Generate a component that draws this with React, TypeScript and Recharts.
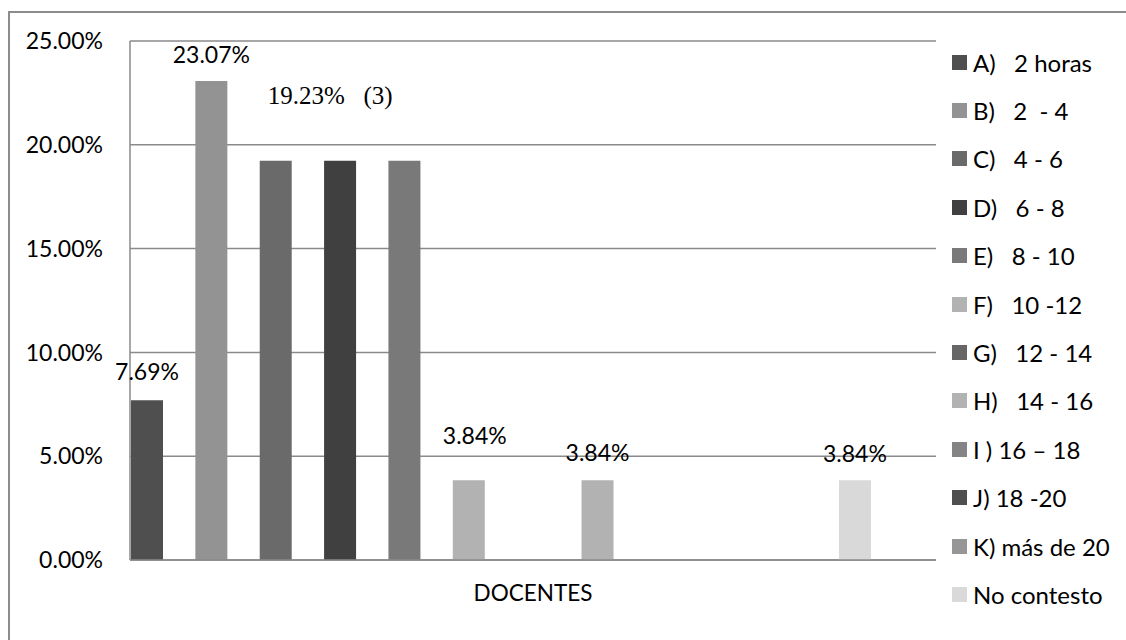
import React from 'react';
import { BarChart, Bar, XAxis, YAxis, CartesianGrid, Legend, LabelList } from 'recharts';

const categories = ['DOCENTES'];
const seriesKeys = ['A', 'B', 'C', 'D', 'E', 'F', 'G', 'H', 'I', 'J', 'K', 'L'];
const seriesNames = [
  'A)   2 horas',
  'B)   2  - 4',
  'C)   4 - 6',
  'D)   6 - 8',
  'E)   8 - 10',
  'F)   10 -12',
  'G)   12 - 14',
  'H)   14 - 16',
  'I ) 16 – 18',
  'J) 18 -20',
  'K) más de 20',
  'No contesto',
];
// porcentajes por rango de horas
const seriesValues = [7.69, 23.07, 19.23, 19.23, 19.23, 3.84, 0, 3.84, 0, 0, 0, 3.84];
const seriesColors = [
  '#4f4f4f', '#939393', '#6a6a6a', '#404040', '#797979', '#b2b2b2',
  '#666666', '#b2b2b2', '#848484', '#4f4f4f', '#969696', '#d9d9d9',
];
const yTicks = [0, 5, 10, 15, 20, 25];

const data = categories.map((cat) => {
  const row: Record<string, string | number> = { cat };
  seriesKeys.forEach((k, i) => {
    row[k] = seriesValues[i];
  });
  return row;
});

const SANS = 'Lato, "Open Sans", sans-serif';
const SERIF = '"Liberation Serif", "DejaVu Serif", serif';
const GRID = '#8a8a8a';

// etiquetas encima de cada barra: distancia hacia arriba y corrimiento lateral
const labelLift: Record<string, number> = { A: 20, B: 18, F: 36, H: 19, L: 18 };
const labelShift: Record<string, number> = { F: 6 };

const pct = (v: number) => `${Number(v).toFixed(2)}%`;

const pctLabel = (lift: number, shift: number) => (props: any) => {
  const { x, y, width, value } = props;
  return (
    <text
      x={Number(x) + Number(width) / 2 + shift}
      y={Number(y) - lift}
      textAnchor="middle"
      fontFamily={SANS}
      fontSize={23}
      fill="#000"
    >
      {pct(value)}
    </text>
  );
};

// C, D y E comparten el mismo valor: una sola etiqueta con (3)
const groupLabel = (props: any) => {
  const { x, y, value } = props;
  return (
    <text
      x={Number(x) + 8}
      y={Number(y) - 57}
      fontFamily={SERIF}
      fontSize={25}
      fill="#000"
      xmlSpace="preserve"
      style={{ whiteSpace: 'pre' }}
    >
      {`${pct(value)}   (3)`}
    </text>
  );
};

const LegendList = (props: any) => {
  const { payload = [] } = props;
  return (
    <div style={{ fontFamily: SANS, fontSize: 24, color: '#000' }}>
      {payload.map((p: any) => (
        <div key={p.value} style={{ height: 48.4, display: 'flex', alignItems: 'center' }}>
          <span style={{ width: 15, height: 15, background: p.color, marginRight: 6, flex: 'none' }} />
          <span style={{ whiteSpace: 'pre' }}>{p.value}</span>
        </div>
      ))}
    </div>
  );
};

export default function App() {
  return (
    <div style={{ position: 'absolute', left: 0, top: 0, width: 1126, height: 640, background: '#fff' }}>
      <div
        style={{
          position: 'absolute',
          left: 8,
          top: 11,
          width: 1116,
          height: 627,
          borderLeft: '2px solid #8c8c8c',
          borderTop: '2px solid #8c8c8c',
        }}
      />
      <div style={{ position: 'absolute', left: 0, top: 0 }}>
        <BarChart
          width={1126}
          height={640}
          data={data}
          margin={{ top: 41, right: 190, bottom: 0, left: 0 }}
          barSize={32}
          barGap={32.36}
        >
          <CartesianGrid vertical={false} stroke={GRID} strokeWidth={1.5} />
          <XAxis
            dataKey="cat"
            height={80}
            axisLine={{ stroke: GRID, strokeWidth: 1.5 }}
            tickLine={false}
            tickSize={0}
            tickMargin={25}
            tick={{ fill: '#000', fontSize: 22.5, fontFamily: SANS }}
          />
          <XAxis xAxisId="bars" dataKey="cat" hide height={0} padding={{ left: 1, right: 65 }} />
          <YAxis
            width={130}
            domain={[0, 25]}
            ticks={yTicks}
            interval={0}
            tickFormatter={pct}
            axisLine={{ stroke: GRID, strokeWidth: 1.5 }}
            tickLine={false}
            tickSize={0}
            tickMargin={27}
            tick={{ fill: '#000', fontSize: 23, fontFamily: SANS }}
          />
          <Legend
            layout="vertical"
            align="center"
            verticalAlign="middle"
            content={LegendList}
            wrapperStyle={{ left: 952, top: 38, width: 174 }}
          />
          {seriesKeys.map((k, i) => (
            <Bar
              key={k}
              xAxisId="bars"
              dataKey={k}
              name={seriesNames[i]}
              fill={seriesColors[i]}
              isAnimationActive={false}
            >
              {labelLift[k] !== undefined && (
                <LabelList dataKey={k} content={pctLabel(labelLift[k], labelShift[k] ?? 0)} />
              )}
              {k === 'C' && <LabelList dataKey={k} content={groupLabel} />}
            </Bar>
          ))}
        </BarChart>
      </div>
    </div>
  );
}
